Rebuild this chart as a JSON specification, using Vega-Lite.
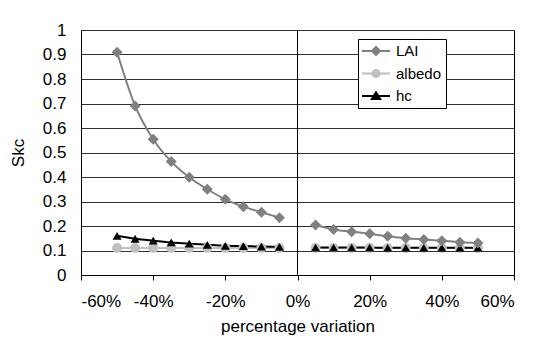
{
  "$schema": "https://vega.github.io/schema/vega-lite/v6.json",
  "width": 433,
  "height": 245,
  "autosize": {"type": "none"},
  "padding": {"left": 81, "top": 30, "right": 36, "bottom": 71},
  "background": "white",
  "config": {
    "font": "Liberation Sans",
    "view": {"stroke": "black", "strokeWidth": 1},
    "axis": {
      "labelFont": "Liberation Sans",
      "titleFont": "Liberation Sans",
      "labelFontSize": 17,
      "titleFontSize": 17,
      "titleFontWeight": "normal",
      "labelColor": "black",
      "titleColor": "black",
      "domainColor": "black",
      "tickColor": "black"
    },
    "legend": {
      "labelFont": "Liberation Sans",
      "labelFontSize": 15,
      "labelColor": "black"
    }
  },
  "data": {
    "values": [
      {"x": -0.50, "series": "albedo", "seg": "neg", "y": 0.110},
      {"x": -0.45, "series": "albedo", "seg": "neg", "y": 0.110},
      {"x": -0.40, "series": "albedo", "seg": "neg", "y": 0.110},
      {"x": -0.35, "series": "albedo", "seg": "neg", "y": 0.110},
      {"x": -0.30, "series": "albedo", "seg": "neg", "y": 0.110},
      {"x": -0.25, "series": "albedo", "seg": "neg", "y": 0.110},
      {"x": -0.20, "series": "albedo", "seg": "neg", "y": 0.110},
      {"x": -0.15, "series": "albedo", "seg": "neg", "y": 0.110},
      {"x": -0.10, "series": "albedo", "seg": "neg", "y": 0.110},
      {"x": -0.05, "series": "albedo", "seg": "neg", "y": 0.110},
      {"x": 0.05, "series": "albedo", "seg": "pos", "y": 0.110},
      {"x": 0.10, "series": "albedo", "seg": "pos", "y": 0.110},
      {"x": 0.15, "series": "albedo", "seg": "pos", "y": 0.110},
      {"x": 0.20, "series": "albedo", "seg": "pos", "y": 0.110},
      {"x": 0.25, "series": "albedo", "seg": "pos", "y": 0.110},
      {"x": 0.30, "series": "albedo", "seg": "pos", "y": 0.110},
      {"x": 0.35, "series": "albedo", "seg": "pos", "y": 0.110},
      {"x": 0.40, "series": "albedo", "seg": "pos", "y": 0.110},
      {"x": 0.45, "series": "albedo", "seg": "pos", "y": 0.110},
      {"x": 0.50, "series": "albedo", "seg": "pos", "y": 0.110},
      {"x": -0.50, "series": "hc", "seg": "neg", "y": 0.160},
      {"x": -0.45, "series": "hc", "seg": "neg", "y": 0.148},
      {"x": -0.40, "series": "hc", "seg": "neg", "y": 0.140},
      {"x": -0.35, "series": "hc", "seg": "neg", "y": 0.133},
      {"x": -0.30, "series": "hc", "seg": "neg", "y": 0.128},
      {"x": -0.25, "series": "hc", "seg": "neg", "y": 0.123},
      {"x": -0.20, "series": "hc", "seg": "neg", "y": 0.119},
      {"x": -0.15, "series": "hc", "seg": "neg", "y": 0.118},
      {"x": -0.10, "series": "hc", "seg": "neg", "y": 0.116},
      {"x": -0.05, "series": "hc", "seg": "neg", "y": 0.115},
      {"x": 0.05, "series": "hc", "seg": "pos", "y": 0.112},
      {"x": 0.10, "series": "hc", "seg": "pos", "y": 0.112},
      {"x": 0.15, "series": "hc", "seg": "pos", "y": 0.112},
      {"x": 0.20, "series": "hc", "seg": "pos", "y": 0.112},
      {"x": 0.25, "series": "hc", "seg": "pos", "y": 0.111},
      {"x": 0.30, "series": "hc", "seg": "pos", "y": 0.111},
      {"x": 0.35, "series": "hc", "seg": "pos", "y": 0.111},
      {"x": 0.40, "series": "hc", "seg": "pos", "y": 0.111},
      {"x": 0.45, "series": "hc", "seg": "pos", "y": 0.111},
      {"x": 0.50, "series": "hc", "seg": "pos", "y": 0.111},
      {"x": -0.50, "series": "LAI", "seg": "neg", "y": 0.909},
      {"x": -0.45, "series": "LAI", "seg": "neg", "y": 0.690},
      {"x": -0.40, "series": "LAI", "seg": "neg", "y": 0.554},
      {"x": -0.35, "series": "LAI", "seg": "neg", "y": 0.463},
      {"x": -0.30, "series": "LAI", "seg": "neg", "y": 0.399},
      {"x": -0.25, "series": "LAI", "seg": "neg", "y": 0.350},
      {"x": -0.20, "series": "LAI", "seg": "neg", "y": 0.309},
      {"x": -0.15, "series": "LAI", "seg": "neg", "y": 0.279},
      {"x": -0.10, "series": "LAI", "seg": "neg", "y": 0.256},
      {"x": -0.05, "series": "LAI", "seg": "neg", "y": 0.234},
      {"x": 0.05, "series": "LAI", "seg": "pos", "y": 0.204},
      {"x": 0.10, "series": "LAI", "seg": "pos", "y": 0.186},
      {"x": 0.15, "series": "LAI", "seg": "pos", "y": 0.177},
      {"x": 0.20, "series": "LAI", "seg": "pos", "y": 0.168},
      {"x": 0.25, "series": "LAI", "seg": "pos", "y": 0.158},
      {"x": 0.30, "series": "LAI", "seg": "pos", "y": 0.150},
      {"x": 0.35, "series": "LAI", "seg": "pos", "y": 0.145},
      {"x": 0.40, "series": "LAI", "seg": "pos", "y": 0.140},
      {"x": 0.45, "series": "LAI", "seg": "pos", "y": 0.134},
      {"x": 0.50, "series": "LAI", "seg": "pos", "y": 0.131}
    ]
  },
  "encoding": {
    "x": {
      "field": "x",
      "type": "quantitative",
      "scale": {"domain": [-0.6, 0.6], "nice": false, "zero": false},
      "axis": {
        "title": "percentage variation",
        "values": [-0.6, -0.4, -0.2, 0, 0.2, 0.4, 0.6],
        "labelExpr": "round(datum.value * 100) + '%'",
        "grid": false,
        "tickSize": 5,
        "labelPadding": 13,
        "titlePadding": 9
      }
    },
    "y": {
      "field": "y",
      "type": "quantitative",
      "scale": {"domain": [0, 1], "nice": false},
      "axis": {
        "title": "Skc",
        "values": [0, 0.1, 0.2, 0.3, 0.4, 0.5, 0.6, 0.7, 0.8, 0.9, 1],
        "format": ".1~f",
        "grid": true,
        "gridColor": "#303030",
        "gridOpacity": 1,
        "ticks": false,
        "labelPadding": 15,
        "titlePadding": 15
      }
    },
    "color": {
      "field": "series",
      "type": "nominal",
      "scale": {"domain": ["LAI", "albedo", "hc"], "range": ["#808080", "#c0c0c0", "#000000"]},
      "legend": null
    }
  },
  "layer": [
    {
      "mark": {"type": "rule", "color": "black", "strokeWidth": 1},
      "encoding": {"x": {"datum": 0}, "y": null, "color": null}
    },
    {
      "mark": {"type": "line", "interpolate": "monotone", "strokeWidth": 2},
      "encoding": {"detail": {"field": "seg"}}
    },
    {
      "mark": {"type": "point", "filled": true, "opacity": 1},
      "encoding": {
        "shape": {
          "field": "series",
          "type": "nominal",
          "scale": {"domain": ["LAI", "albedo", "hc"], "range": ["diamond", "circle", "triangle-up"]},
          "legend": null
        },
        "size": {
          "field": "series",
          "type": "nominal",
          "scale": {"domain": ["LAI", "albedo", "hc"], "range": [121, 81, 110]},
          "legend": null
        }
      }
    },
    {
      "transform": [{"filter": "datum.x > 5"}],
      "mark": {"type": "point", "filled": true, "opacity": 1, "size": 256},
      "encoding": {
        "color": {
          "field": "series",
          "type": "nominal",
          "scale": {"domain": ["LAI", "albedo", "hc"], "range": ["#808080", "#c0c0c0", "#000000"]},
          "legend": {
            "title": null,
            "orient": "none",
            "legendX": 277,
            "legendY": 9,
            "strokeColor": "black",
            "fillColor": "white",
            "padding": 4,
            "rowPadding": 6.5,
            "symbolOffset": 6,
            "labelOffset": 12,
            "symbolSize": 256,
            "symbolStrokeWidth": 0
          }
        },
        "shape": {
          "field": "series",
          "type": "nominal",
          "scale": {
            "domain": ["LAI", "albedo", "hc"],
            "range": [
              "M-1.75,-0.125H1.75V0.125H-1.75Z M0,-0.69L0.69,0L0,0.69L-0.69,0Z",
              "M-1.75,-0.125H1.75V0.125H-1.75Z M0.56,0A0.56,0.56 0 1,1 -0.56,0A0.56,0.56 0 1,1 0.56,0Z",
              "M-1.75,-0.125H1.75V0.125H-1.75Z M0,-0.69L0.75,0.5L-0.75,0.5Z"
            ]
          },
          "legend": {
            "title": null,
            "orient": "none",
            "legendX": 277,
            "legendY": 9,
            "strokeColor": "black",
            "fillColor": "white",
            "padding": 4,
            "rowPadding": 6.5,
            "symbolOffset": 6,
            "labelOffset": 12,
            "symbolSize": 256,
            "symbolStrokeWidth": 0
          }
        }
      }
    }
  ],
  "resolve": {"scale": {"color": "independent", "shape": "independent"}}
}
